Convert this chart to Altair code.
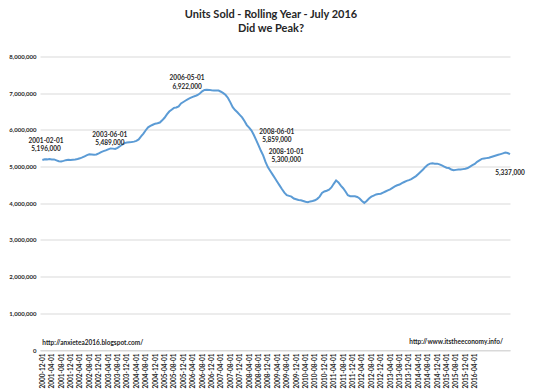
import altair as alt
import pandas as pd

# Rolling-year units sold (thousands), one value per category position
units_k = [
    5180, 5200, 5196, 5205, 5190, 5195, 5170, 5145, 5140, 5155,
    5175, 5185, 5180, 5185, 5190, 5205, 5225, 5250, 5280, 5310,
    5335, 5330, 5325, 5330, 5360, 5395, 5420, 5440, 5470, 5495,
    5489, 5480, 5510, 5555, 5600, 5640, 5655, 5665, 5670, 5680,
    5700, 5740, 5820, 5900, 5990, 6070, 6110, 6140, 6170, 6180,
    6200, 6260, 6330, 6420, 6500, 6550, 6600, 6610, 6640, 6720,
    6760, 6800, 6840, 6870, 6900, 6922, 6950, 6990, 7050, 7090,
    7095, 7090, 7080, 7075, 7070, 7070, 7040, 7000, 6950, 6870,
    6750, 6620, 6540, 6480, 6410, 6340, 6240, 6130, 6060, 5980,
    5859, 5720, 5580, 5430, 5300, 5120, 4980, 4880, 4780, 4680,
    4580, 4480, 4380, 4290, 4220, 4200, 4180, 4130, 4110, 4090,
    4080, 4060, 4040, 4030, 4050, 4060, 4080, 4120, 4180, 4280,
    4320, 4340, 4370, 4430, 4530, 4620, 4570, 4480, 4410, 4320,
    4220, 4190, 4190, 4190, 4170, 4130, 4060, 4010, 4060, 4130,
    4180, 4210, 4240, 4250, 4260, 4290, 4320, 4350, 4380, 4420,
    4460, 4490, 4510, 4550, 4580, 4610, 4630, 4660, 4700, 4740,
    4800, 4860, 4920, 4990, 5050, 5080, 5090, 5080, 5080, 5060,
    5030, 5000, 4970, 4960, 4920, 4900, 4910, 4920, 4920, 4930,
    4940, 4960, 5000, 5040, 5070, 5130, 5170, 5210, 5220, 5230,
    5240, 5260, 5280, 5300, 5320, 5340, 5360, 5380, 5370, 5337,
]

# Axis tick labels (every 4th category)
tick_labels = [d.strftime("%Y-%m-%d") for d in pd.date_range("2000-12-01", "2016-04-01", freq="4MS")]
tick_step = 4
y_ticks = [0, 1000000, 2000000, 3000000, 4000000, 5000000, 6000000, 7000000, 8000000]

# Annotated points
ann_idx = [2, 30, 65, 90, 94, 199]
ann_date = ["2001-02-01", "2003-06-01", "2006-05-01", "2008-06-01", "2008-10-01", ""]
ann_value = [5196000, 5489000, 6922000, 5859000, 5300000, 5337000]

# Source notes
note_text = ["http://anxietea2016.blogspot.com/", "http://www.itstheeconomy.info/"]
note_idx = [0, 196]
note_val = [0, 0]

FONT = "Lato"
TXT = "#262626"

df = pd.DataFrame({"i": list(range(len(units_k))), "units": [v * 1000 for v in units_k]})

xscale = alt.Scale(domain=[-1, 199], nice=False, zero=False)
yscale = alt.Scale(domain=[0, 8000000], nice=False)

labels_js = "[" + ",".join("'" + t + "'" for t in tick_labels) + "]"

xaxis = alt.Axis(title=None, values=list(range(0, len(tick_labels) * tick_step, tick_step)),
                 labelExpr=labels_js + "[round(datum.value/" + str(tick_step) + ")]",
                 labelAngle=-90, grid=False, ticks=False, domain=True, labelOverlap=False,
                 domainColor="#d9d9d9", labelFont=FONT, labelFontSize=6.5,
                 labelColor=TXT, labelPadding=3, labelFontWeight="bold")
yaxis = alt.Axis(title=None, values=y_ticks, labelExpr="format(datum.value, ',')", labelOverlap=False,
                 grid=True, gridColor="#d9d9d9", domain=False, ticks=False,
                 labelFont=FONT, labelFontSize=6, labelColor=TXT,
                 labelPadding=4, labelFontWeight="bold")

X = alt.X("i:Q", scale=xscale, axis=xaxis)
Y = alt.Y("units:Q", scale=yscale, axis=yaxis)

line = alt.Chart(df).mark_line(color="#5B9BD5", strokeWidth=2).encode(x=X, y=Y)

adf = pd.DataFrame({"i": ann_idx, "units": ann_value, "date": ann_date,
                    "vtxt": [f"{v:,}" for v in ann_value]})

# label offsets (px): (dx, date dy, value dy)
offsets = [(-1, -18, -10), (-3, -14, -6), (-8, -18, -9.5), (23, -3.5, 5), (23, -4, 4.5), (0, 0, 19)]

layers = [line]
for k, (dx, ddy, vdy) in enumerate(offsets):
    sub = adf.iloc[[k]]
    base = alt.Chart(sub).encode(x=X, y=Y)
    if ann_date[k]:
        layers.append(base.mark_text(font=FONT, fontSize=6.5, fontWeight="bold", color=TXT,
                                     dx=dx, dy=ddy, baseline="middle").encode(text="date:N"))
    layers.append(base.mark_text(font=FONT, fontSize=6.5, fontWeight="bold", color=TXT,
                                 dx=dx, dy=vdy, baseline="middle").encode(text="vtxt:N"))

ndf = pd.DataFrame({"i": note_idx, "units": note_val, "t": note_text})
notes_left = alt.Chart(ndf.iloc[[0]]).mark_text(font=FONT, fontSize=6.5, fontWeight="bold", color=TXT,
                                                align="left", dy=-7, baseline="middle").encode(
    x=X, y=Y, text="t:N")
notes_right = alt.Chart(ndf.iloc[[1]]).mark_text(font=FONT, fontSize=6.5, fontWeight="bold", color=TXT,
                                                 align="right", dy=-8, baseline="middle").encode(
    x=X, y=Y, text="t:N")
layers += [notes_left, notes_right]

chart = alt.layer(*layers).properties(
    width=470, height=293.5,
    autosize=alt.AutoSizeParams(type="none"),
    padding={"left": 32, "top": 48.5, "right": 24, "bottom": 41},
    title=alt.TitleParams(text=["Units Sold - Rolling Year - July 2016", "Did we Peak?"],
                          font=FONT, fontSize=11, fontWeight="bold", color=TXT,
                          anchor="middle", dx=-4, offset=19.5, lineHeight=14),
).configure_view(stroke=None)

chart.save("out.html", embed_options={"renderer": "svg", "actions": False})
